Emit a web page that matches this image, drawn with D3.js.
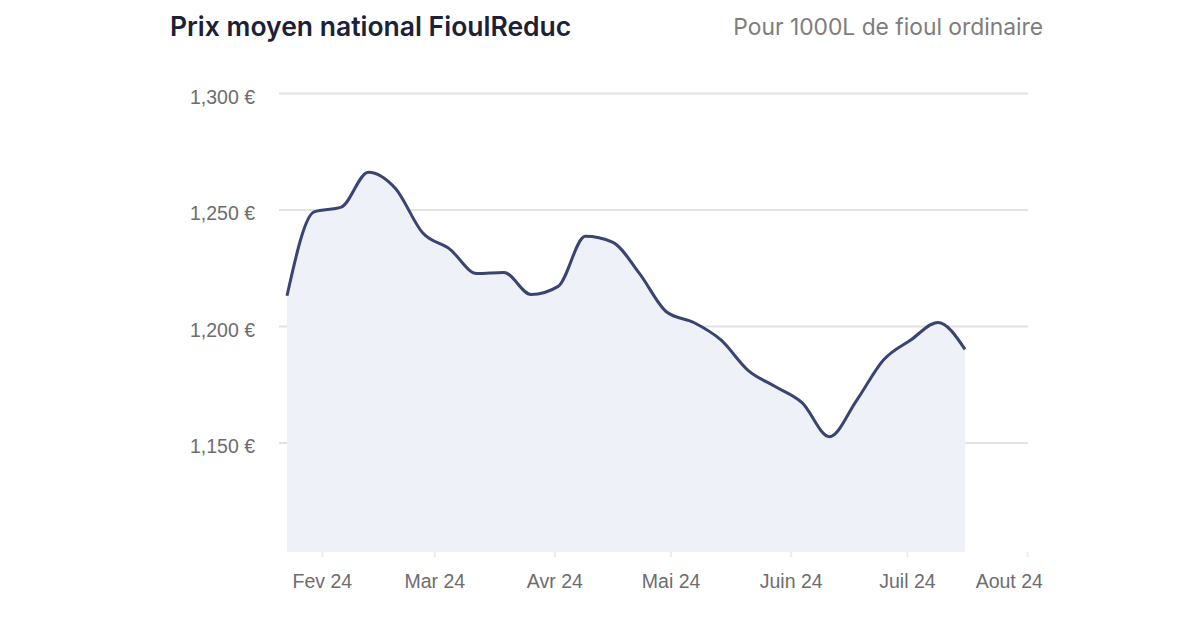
<!DOCTYPE html>
<html>
<head>
<meta charset="utf-8">
<script src="https://cdn.jsdelivr.net/npm/d3@7"></script>
<style>
  body { margin: 0; background: #fff; }
  svg { display: block; }
</style>
</head>
<body>
<div id="container"></div>
<script>
/* CONSTANTS AND GLOBALS */
const width = 1200,
  height = 627,
  margin = { top: 93, bottom: 75, left: 287, right: 173 }

// weekly price points (EUR / 1000 L)
const startDate = "2024-01-23"
const prices = [
  1213, 1249, 1251, 1266, 1259, 1240, 1233, 1222.5, 1223, 1213.5,
  1217, 1238.5, 1236, 1222.5, 1206, 1201.5, 1194, 1181, 1174, 1167,
  1152.5, 1168, 1185.5, 1194, 1201.5, 1190
]
const monthTicks = ["2024-02-01", "2024-03-01", "2024-04-01", "2024-05-01", "2024-06-01", "2024-07-01", "2024-08-01"]
const monthLabels = ["Fev 24", "Mar 24", "Avr 24", "Mai 24", "Juin 24", "Juil 24", "Aout 24"]
const yTicks = [1150, 1200, 1250, 1300]
const yDomain = [1103, 1300]
const xEnd = "2024-08-01"

const parseDate = d3.timeParse("%Y-%m-%d")
const data = prices.map((v, i) => ({
  date: d3.timeDay.offset(parseDate(startDate), i * 7),
  price: v
}))

/* SCALES */
const xScale = d3.scaleTime()
  .domain([parseDate(startDate), parseDate(xEnd)])
  .range([margin.left, width - margin.right])

const yScale = d3.scaleLinear()
  .domain(yDomain)
  .range([height - margin.bottom, margin.top])

/* SVG */
const svg = d3.select("#container")
  .append("svg")
  .attr("width", width)
  .attr("height", height)
  .style("font-family", "'Liberation Sans', Arial, sans-serif")

// title + subtitle
svg.append("text")
  .attr("x", 170)
  .attr("y", 29)
  .attr("dominant-baseline", "middle")
  .attr("fill", "#1b2137")
  .style("font-family", "Inter, 'Open Sans', sans-serif")
  .style("font-weight", 600)
  .style("font-size", "26.5px")
  .text("Prix moyen national FioulReduc")

svg.append("text")
  .attr("x", 1043)
  .attr("y", 29)
  .attr("text-anchor", "end")
  .attr("dominant-baseline", "middle")
  .attr("fill", "#7d7d7d")
  .style("font-family", "Inter, 'Open Sans', sans-serif")
  .style("font-size", "22.8px")
  .text("Pour 1000L de fioul ordinaire")

/* Y AXIS + GRID (behind the area) */
const gridLeft = margin.left - 8
const yAxis = d3.axisLeft(yScale)
  .tickValues(yTicks)
  .tickSizeInner(-(width - margin.right + 1 - gridLeft))
  .tickSizeOuter(0)
  .tickPadding(24)
  .tickFormat(d => d3.format(",")(d) + " €")

const yAxisGroup = svg.append("g")
  .attr("class", "yAxis")
  .attr("transform", `translate(${gridLeft}, 0)`)
  .call(yAxis)

yAxisGroup.select(".domain").remove()
yAxisGroup.selectAll(".tick line")
  .attr("stroke", "#e2e2e2")
  .attr("stroke-width", 2)
yAxisGroup.selectAll(".tick text")
  .attr("fill", "#6d6d6d")
  .attr("dy", "0.52em")
  .style("font-size", "19.5px")

/* X AXIS */
const xAxis = d3.axisBottom(xScale)
  .tickValues(monthTicks.map(parseDate))
  .tickSizeInner(5)
  .tickSizeOuter(0)
  .tickPadding(17)
  .tickFormat((d, i) => monthLabels[i])

const xAxisGroup = svg.append("g")
  .attr("class", "xAxis")
  .attr("transform", `translate(0, ${height - margin.bottom})`)
  .call(xAxis)

xAxisGroup.select(".domain").remove()
xAxisGroup.selectAll(".tick line")
  .attr("stroke", "#ececec")
  .attr("stroke-width", 2)
xAxisGroup.selectAll(".tick text")
  .attr("fill", "#6d6d6d")
  .style("font-size", "19.5px")

// keep the last label inside the chart's right edge
const rightLimit = 1043
xAxisGroup.selectAll(".tick text").each(function () {
  const box = this.getBBox()
  const tx = d3.select(this.parentNode).attr("transform")
  const x0 = +tx.match(/translate\(([-\d.]+)/)[1]
  const over = x0 + box.x + box.width - rightLimit
  if (over > 0) d3.select(this).attr("x", -over)
})

/* AREA + LINE */
const areaGen = d3.area()
  .x(d => xScale(d.date))
  .y0(yScale(yDomain[0]))
  .y1(d => yScale(d.price))
  .curve(d3.curveMonotoneX)

const lineGen = d3.line()
  .x(d => xScale(d.date))
  .y(d => yScale(d.price))
  .curve(d3.curveMonotoneX)

svg.append("path")
  .datum(data)
  .attr("class", "area")
  .attr("fill", "#eef1f7")
  .attr("d", areaGen)

svg.append("path")
  .datum(data)
  .attr("class", "line")
  .attr("fill", "none")
  .attr("stroke", "#3a4470")
  .attr("stroke-width", 3)
  .attr("stroke-linejoin", "round")
  .attr("d", lineGen)
</script>
</body>
</html>
